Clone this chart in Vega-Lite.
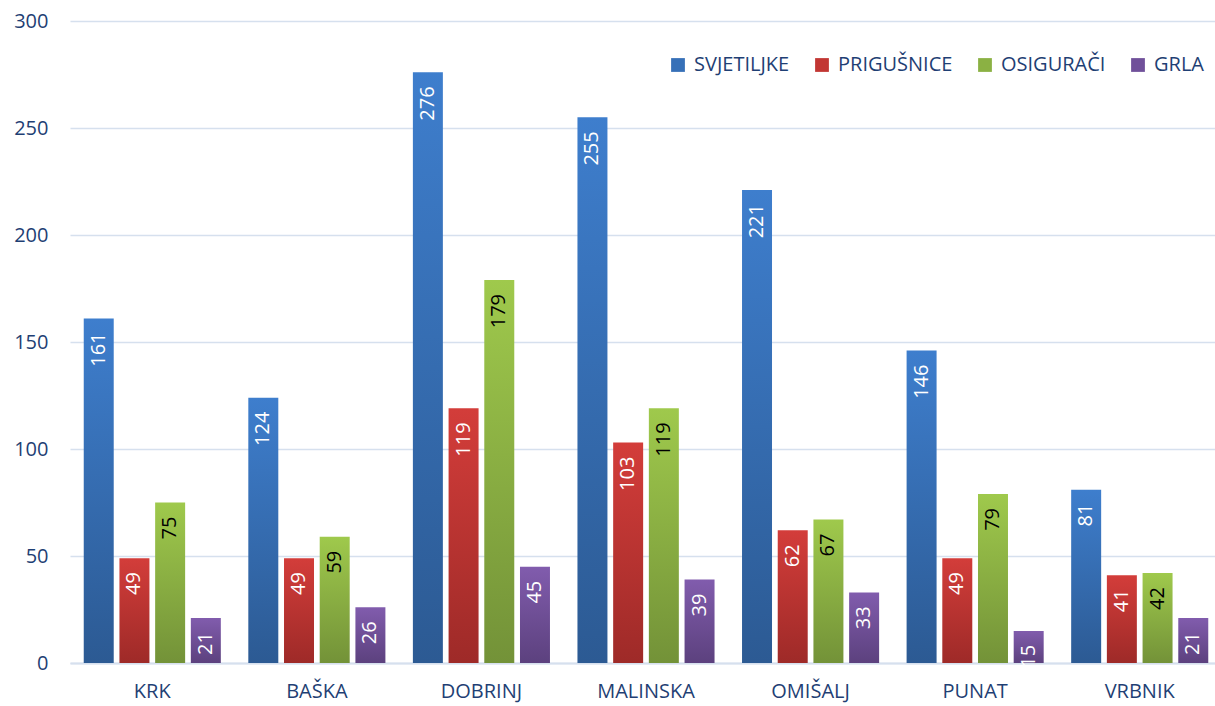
{
  "$schema": "https://vega.github.io/schema/vega-lite/v6.json",
  "width": 1152,
  "height": 642,
  "autosize": "none",
  "padding": {"left": 70, "top": 21, "right": 0, "bottom": 43},
  "background": "white",
  "config": {"view": {"stroke": null}},
  "data": {
    "values": [
      {"grad": "KRK", "serija": "SVJETILJKE", "v": 161},
      {"grad": "KRK", "serija": "PRIGUŠNICE", "v": 49},
      {"grad": "KRK", "serija": "OSIGURAČI", "v": 75},
      {"grad": "KRK", "serija": "GRLA", "v": 21},
      {"grad": "BAŠKA", "serija": "SVJETILJKE", "v": 124},
      {"grad": "BAŠKA", "serija": "PRIGUŠNICE", "v": 49},
      {"grad": "BAŠKA", "serija": "OSIGURAČI", "v": 59},
      {"grad": "BAŠKA", "serija": "GRLA", "v": 26},
      {"grad": "DOBRINJ", "serija": "SVJETILJKE", "v": 276},
      {"grad": "DOBRINJ", "serija": "PRIGUŠNICE", "v": 119},
      {"grad": "DOBRINJ", "serija": "OSIGURAČI", "v": 179},
      {"grad": "DOBRINJ", "serija": "GRLA", "v": 45},
      {"grad": "MALINSKA", "serija": "SVJETILJKE", "v": 255},
      {"grad": "MALINSKA", "serija": "PRIGUŠNICE", "v": 103},
      {"grad": "MALINSKA", "serija": "OSIGURAČI", "v": 119},
      {"grad": "MALINSKA", "serija": "GRLA", "v": 39},
      {"grad": "OMIŠALJ", "serija": "SVJETILJKE", "v": 221},
      {"grad": "OMIŠALJ", "serija": "PRIGUŠNICE", "v": 62},
      {"grad": "OMIŠALJ", "serija": "OSIGURAČI", "v": 67},
      {"grad": "OMIŠALJ", "serija": "GRLA", "v": 33},
      {"grad": "PUNAT", "serija": "SVJETILJKE", "v": 146},
      {"grad": "PUNAT", "serija": "PRIGUŠNICE", "v": 49},
      {"grad": "PUNAT", "serija": "OSIGURAČI", "v": 79},
      {"grad": "PUNAT", "serija": "GRLA", "v": 15},
      {"grad": "VRBNIK", "serija": "SVJETILJKE", "v": 81},
      {"grad": "VRBNIK", "serija": "PRIGUŠNICE", "v": 41},
      {"grad": "VRBNIK", "serija": "OSIGURAČI", "v": 42},
      {"grad": "VRBNIK", "serija": "GRLA", "v": 21}
    ]
  },
  "encoding": {
    "x": {
      "field": "grad", "type": "nominal", "sort": null,
      "scale": {"paddingInner": 0.167, "paddingOuter": 0.0835},
      "axis": {"title": null, "labelAngle": 0, "labelFont": "Open Sans", "labelFontSize": 20, "labelColor": "#1F3F74", "labelPadding": 18, "ticks": false, "domain": true, "domainColor": "#D6E0EE", "domainWidth": 2}
    },
    "xOffset": {
      "field": "serija", "type": "nominal", "sort": ["SVJETILJKE", "PRIGUŠNICE", "OSIGURAČI", "GRLA"],
      "scale": {"paddingInner": 0.16, "paddingOuter": 0}
    },
    "y": {
      "field": "v", "type": "quantitative",
      "scale": {"domain": [0, 300], "nice": false},
      "axis": {"title": null, "values": [0, 50, 100, 150, 200, 250, 300], "labelFont": "Open Sans", "labelFontSize": 20, "labelColor": "#1F3F74", "labelPadding": 22, "ticks": false, "domain": false, "gridColor": "#D6E0EE", "gridWidth": 1.5}
    }
  },
  "layer": [
    {
      "mark": {"type": "bar"},
      "encoding": {
        "y": {"datum": 0, "type": "quantitative"},
        "color": {
          "field": "serija", "type": "nominal", "sort": ["SVJETILJKE", "PRIGUŠNICE", "OSIGURAČI", "GRLA"],
          "scale": {"range": ["#3670B8", "#C23633", "#8BB143", "#70509A"]},
          "legend": {
            "title": null, "orient": "none", "legendX": 598, "legendY": 34, "direction": "horizontal",
            "symbolType": "square", "symbolSize": 190, "symbolStrokeWidth": 0, "symbolOpacity": 1,
            "labelFont": "Open Sans", "labelFontSize": 20, "labelColor": "#1F3F74",
            "columnPadding": 22, "labelOffset": 6
          }
        }
      }
    },
    {
      "transform": [{"filter": "datum.serija === 'SVJETILJKE'"}],
      "mark": {"type": "bar", "color": {"gradient": "linear", "x1": 0, "y1": 0, "x2": 0, "y2": 1, "stops": [{"offset": 0, "color": "#3E7ECD"}, {"offset": 1, "color": "#2C5A93"}]}},
      "encoding": {}
    },
    {
      "transform": [{"filter": "datum.serija === 'PRIGUŠNICE'"}],
      "mark": {"type": "bar", "color": {"gradient": "linear", "x1": 0, "y1": 0, "x2": 0, "y2": 1, "stops": [{"offset": 0, "color": "#D33D3A"}, {"offset": 1, "color": "#9E2A28"}]}},
      "encoding": {}
    },
    {
      "transform": [{"filter": "datum.serija === 'OSIGURAČI'"}],
      "mark": {"type": "bar", "color": {"gradient": "linear", "x1": 0, "y1": 0, "x2": 0, "y2": 1, "stops": [{"offset": 0, "color": "#9FC94C"}, {"offset": 1, "color": "#739238"}]}},
      "encoding": {}
    },
    {
      "transform": [{"filter": "datum.serija === 'GRLA'"}],
      "mark": {"type": "bar", "color": {"gradient": "linear", "x1": 0, "y1": 0, "x2": 0, "y2": 1, "stops": [{"offset": 0, "color": "#815CAD"}, {"offset": 1, "color": "#5C417E"}]}},
      "encoding": {}
    },
    {
      "mark": {"type": "text", "angle": 270, "align": "right", "baseline": "middle", "dx": -14, "font": "Open Sans", "fontSize": 20},
      "encoding": {
        "text": {"field": "v", "type": "quantitative"},
        "color": {"condition": {"test": "datum.serija === 'OSIGURAČI'", "value": "black"}, "value": "white"}
      }
    }
  ]
}
